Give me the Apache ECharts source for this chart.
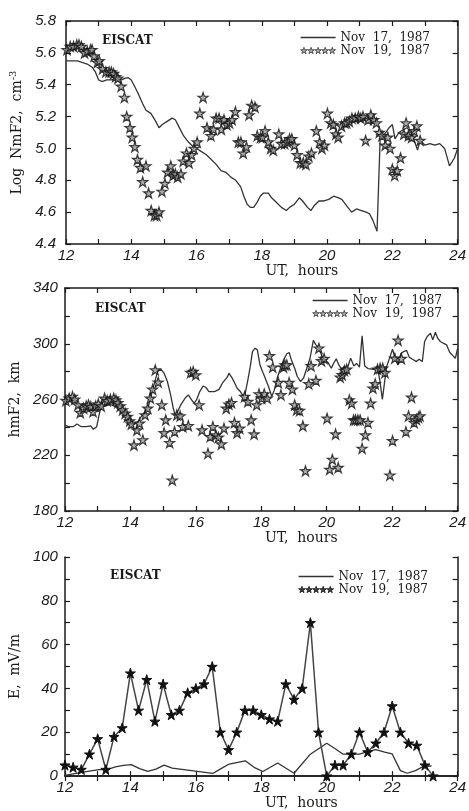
<!DOCTYPE html>
<html>
<head>
<meta charset="utf-8">
<script src="https://cdn.jsdelivr.net/npm/echarts@6/dist/echarts.min.js"></script>
<style>
html, body { margin: 0; padding: 0; background: #fff; }
#chart { width: 469px; height: 811px; }
</style>
</head>
<body>
<div id="chart"></div>
<script>
// panel 1: log NmF2
var nmTime17 = [12.0,12.35,12.65,12.8,12.9,13.0,13.1,13.25,13.4,13.55,13.7,13.8,13.9,14.0,14.1,14.2,14.35,14.45,14.6,14.75,14.85,14.95,15.1,15.25,15.35,15.45,15.6,15.75,15.9,16.0,16.15,16.3,16.45,16.6,16.75,16.9,17.05,17.2,17.35,17.45,17.55,17.65,17.75,17.85,17.95,18.05,18.2,18.3,18.45,18.6,18.75,18.85,19.0,19.15,19.25,19.4,19.5,19.6,19.75,19.9,20.05,20.2,20.35,20.45,20.6,20.75,20.9,21.05,21.2,21.3,21.4,21.53,21.63,21.7,21.8,21.9,22.0,22.08,22.2,22.35,22.45,22.6,22.77,22.85,23.0,23.15,23.3,23.45,23.6,23.75,23.9,24.0];
var nmVal17 = [5.55,5.55,5.53,5.51,5.48,5.43,5.42,5.43,5.43,5.44,5.43,5.44,5.445,5.43,5.39,5.35,5.28,5.24,5.22,5.17,5.13,5.15,5.17,5.19,5.18,5.14,5.08,5.04,5.01,5.0,4.98,4.96,4.93,4.9,4.86,4.85,4.82,4.8,4.76,4.7,4.65,4.63,4.63,4.66,4.7,4.72,4.72,4.69,4.66,4.63,4.61,4.63,4.65,4.69,4.67,4.63,4.61,4.64,4.67,4.67,4.68,4.7,4.69,4.68,4.64,4.6,4.62,4.61,4.6,4.59,4.55,4.48,5.09,5.08,5.1,5.13,5.15,5.06,5.1,5.12,5.13,5.09,4.99,5.05,5.02,5.03,5.02,5.03,5.0,4.89,4.94,5.0];
var nmTime19 = [12.03,12.13,12.23,12.33,12.4,12.47,12.57,12.65,12.75,12.8,12.86,12.96,13.02,13.12,13.22,13.32,13.39,13.46,13.52,13.59,13.69,13.79,13.86,13.96,14.03,14.11,14.19,14.28,14.35,14.45,14.53,14.61,14.71,14.78,14.85,14.94,15.03,15.11,15.21,15.28,15.35,15.42,15.52,15.59,15.69,15.77,15.85,15.92,16.02,16.1,16.2,16.32,16.44,16.52,16.6,16.69,16.76,16.84,16.93,17.01,17.09,17.19,17.28,17.36,17.43,17.53,17.61,17.69,17.79,17.86,17.96,18.02,18.1,18.2,18.27,18.35,18.52,18.6,18.7,18.78,18.85,18.92,19.0,19.08,19.18,19.27,19.35,19.44,19.52,19.67,19.77,19.84,19.92,20.01,20.11,20.19,20.27,20.34,20.44,20.54,20.6,20.68,20.76,20.86,20.96,21.03,21.1,21.18,21.26,21.34,21.43,21.51,21.6,21.68,21.78,21.86,21.93,22.0,22.07,22.15,22.25,22.35,22.42,22.49,22.59,22.67,22.75,22.85];
var nmVal19 = [5.62,5.64,5.64,5.65,5.65,5.64,5.6,5.61,5.62,5.62,5.58,5.54,5.55,5.5,5.48,5.48,5.48,5.47,5.45,5.44,5.39,5.32,5.2,5.13,5.07,5.01,4.93,4.88,4.79,4.89,4.72,4.61,4.58,4.58,4.6,4.73,4.78,4.85,4.89,4.83,4.84,4.82,4.84,4.92,4.97,4.91,4.96,5.0,5.04,5.22,5.32,5.13,5.08,5.12,5.19,5.19,5.12,5.18,5.15,5.16,5.18,5.23,5.04,5.04,4.97,5.01,5.21,5.27,5.26,5.08,5.07,5.07,5.11,5.04,5.0,4.99,5.09,5.03,5.03,5.04,5.06,5.06,5.02,4.96,4.91,4.91,4.9,4.95,4.97,5.11,5.04,5.0,5.02,5.22,5.16,5.15,5.09,5.07,5.14,5.16,5.16,5.17,5.19,5.19,5.2,5.19,5.2,5.05,5.18,5.21,5.18,5.16,5.1,5.08,5.02,5.07,5.0,4.87,4.83,4.86,4.94,5.09,5.16,5.08,5.07,5.11,5.14,5.05];

// panel 2: hmF2, km
var hmTime17 = [12.0,12.1,12.25,12.37,12.5,12.65,12.79,12.87,12.97,13.06,13.12,13.24,13.34,13.42,13.54,13.66,13.79,13.89,13.99,14.08,14.15,14.23,14.33,14.45,14.55,14.68,14.83,14.93,15.03,15.13,15.23,15.31,15.37,15.44,15.54,15.67,15.77,15.87,15.95,16.02,16.12,16.22,16.3,16.4,16.57,16.71,16.81,16.96,17.01,17.11,17.19,17.26,17.36,17.46,17.51,17.59,17.66,17.73,17.81,17.88,17.96,18.05,18.1,18.22,18.32,18.4,18.5,18.6,18.68,18.78,18.85,18.92,19.02,19.1,19.2,19.29,19.39,19.49,19.59,19.67,19.76,19.86,19.94,20.04,20.14,20.21,20.29,20.37,20.45,20.54,20.63,20.73,20.83,20.91,21.0,21.08,21.16,21.26,21.43,21.56,21.62,21.7,21.76,21.83,21.93,22.01,22.1,22.18,22.26,22.35,22.44,22.52,22.62,22.74,22.82,22.92,22.99,23.07,23.17,23.24,23.32,23.39,23.47,23.56,23.66,23.76,23.86,23.93,24.0];
var hmVal17 = [241.7,240.5,240.5,242.4,240.5,240.5,241,238.6,240.5,250.6,254.9,255.3,256.1,256.1,254.9,253.7,251.3,247.2,244.1,242.4,242.9,244.1,247.7,251.3,254.9,266.9,280,281.7,278.9,272.9,263.3,253.7,248.9,251.3,256.1,260.9,263.3,259.7,257.3,259.7,265.7,269.7,268.8,265.7,265.7,267.3,271.7,276,278.9,275.3,271.7,268.1,265.7,262.1,264.5,274.1,283.2,294.4,296.8,295.6,284.8,279.3,276.5,269.3,262.1,266.9,276.5,283.2,288.4,292.8,293.7,288.4,282.4,276.5,272.9,275.3,282.4,289.6,302.4,299.2,296.8,290.8,288.4,286.5,282.4,286,289.2,284.8,281.7,283.6,282.4,289.6,284.1,285.9,283.2,305.7,284.1,282.2,281.7,281.7,274.1,260.1,271.2,283.6,290.4,296.1,288.4,284.8,292.8,294.4,295.2,290.4,288.9,287.2,288.9,287.2,301.6,305.2,307.6,302.8,308.3,304,301.6,300.4,299.2,293.7,291.3,289.6,296.8];
var hmTime19 = [12.03,12.13,12.23,12.3,12.4,12.47,12.57,12.65,12.72,12.79,12.86,12.94,13.02,13.11,13.21,13.29,13.39,13.49,13.56,13.62,13.69,13.76,13.84,13.91,13.98,14.03,14.11,14.2,14.28,14.38,14.45,14.53,14.61,14.68,14.76,14.85,14.96,15.03,15.08,15.2,15.28,15.35,15.42,15.52,15.6,15.77,15.84,15.92,16.0,16.1,16.19,16.37,16.44,16.52,16.61,16.69,16.78,16.86,16.93,17.01,17.09,17.18,17.26,17.34,17.49,17.59,17.69,17.78,17.86,17.93,18.01,18.09,18.18,18.25,18.35,18.52,18.6,18.68,18.72,18.78,18.85,18.95,19.02,19.08,19.17,19.27,19.35,19.45,19.52,19.67,19.76,19.84,19.92,20.01,20.09,20.17,20.27,20.35,20.41,20.47,20.54,20.61,20.69,20.76,20.82,20.88,20.95,21.02,21.08,21.18,21.26,21.34,21.41,21.48,21.55,21.63,21.71,21.78,21.93,22.01,22.08,22.18,22.28,22.42,22.5,22.59,22.67,22.74,22.8,22.85];
var hmVal19 = [259.2,260.9,262.1,260.1,256.1,250.6,253.7,255.3,256.1,254.9,251.3,255.3,256.8,255.3,260.9,259.2,260.1,260.9,259.7,257.7,255.3,252.5,250.1,247.7,244.6,242.4,227.3,238.1,242.9,231,248.9,253.7,260.9,267.3,281.2,272.4,256.1,236.1,245.3,229,202.1,236.9,248.9,248.2,240.5,241.2,279.3,280,277.6,256.1,238.1,221.3,233.3,240.5,234.5,232.8,228,239.3,253.7,256.6,257.7,243.4,236.1,239.3,262.1,258.5,245.3,235.2,256.1,264,260.9,264,260.9,291.3,283.2,272.1,263.3,283.2,284.8,284.8,272.1,267.3,256.1,252.5,252,241,208.8,271.2,284.1,273.6,296.8,287.7,289.4,246.5,209.8,217,235.2,211.2,276,277.7,280.8,281.7,259.7,257.3,245.3,245.3,245.3,245.3,224.9,234.5,243.4,257.3,268.1,271.2,281.7,282.4,282.4,279.3,205.7,230.4,289.6,302.4,289.4,236.9,248.2,261.6,243.4,245.7,247.2,248.2];

// panel 3: E, mV/m
var eTime17 = [12.0,12.6,13.04,13.29,13.54,13.79,14.03,14.28,14.53,14.78,15.03,15.28,16.52,16.77,17.02,17.51,17.78,18.05,18.5,19.0,19.5,20.0,20.27,20.5,21.0,21.25,21.5,21.77,22.0,22.25,22.46,22.71,22.96,23.2];
var eVal17 = [0.3,1.9,3.0,3.0,4.2,4.9,5.2,3.4,2.2,3.2,5.0,3.6,1.2,3.4,5.5,7.0,4.0,2.1,6.0,1.3,10.0,15.0,12.4,10.0,10.0,11.2,12.1,10.9,10.1,2.5,1.3,2.5,4.5,4.6];
var eTime19 = [12.0,12.25,12.5,12.75,13.0,13.25,13.5,13.75,14.0,14.25,14.5,14.75,15.0,15.25,15.5,15.75,16.0,16.25,16.5,16.75,17.0,17.25,17.5,17.75,18.0,18.25,18.5,18.75,19.0,19.25,19.5,19.75,20.0,20.25,20.5,20.75,21.0,21.25,21.5,21.75,22.0,22.25,22.5,22.75,23.0,23.25];
var eVal19 = [5,4,3,10,17,3,18,22,47,30,44,25,42,28,30,38,40,42,50,20,12,20,30,30,28,26,25,42,35,40,70,20,0,5,5,10,20,11,15,20,32,20,15,14,5,0];

var name17 = 'Nov 17, 1987';
var name19 = 'Nov 19, 1987';

function zip(xs, ys) {
    var out = [];
    for (var i = 0; i < xs.length; i++) out.push([xs[i], ys[i]]);
    return out;
}

var star = 'path://M50,0L61.2,34.5L97.6,34.5L68.2,55.9L79.4,90.5L50,69.1L20.6,90.5L31.8,55.9L2.4,34.5L38.8,34.5Z';
var fiveStars = 'path://';
for (var k = 0; k < 5; k++) {
    var o = k * 100;
    fiveStars += 'M' + (o + 50) + ',0L' + (o + 61.2) + ',34.5L' + (o + 97.6) + ',34.5L' + (o + 68.2) + ',55.9L' + (o + 79.4) + ',90.5L' +
        (o + 50) + ',69.1L' + (o + 20.6) + ',90.5L' + (o + 31.8) + ',55.9L' + (o + 2.4) + ',34.5L' + (o + 38.8) + ',34.5Z';
}
// legend path icons keep their aspect, so a 100x4 bar comes out as a thin line
var lineIcon = 'path://M0,0L100,0L100,4L0,4Z';

var serif = 'DejaVu Serif';
var sans = 'Liberation Sans';
var ink = '#1a1a1a';

var grids = [
    {left: 55, top: 21, width: 403, height: 223},
    {left: 55, top: 288, width: 403, height: 223},
    {left: 55, top: 557, width: 403, height: 224}
];

var yCfg = [
    {min: 4.4, max: 5.8, interval: 0.2, name: 'Log  NmF2,  cm{sup|-3}', gap: 40, margin: 10,
        fmt: function (v) { return v.toFixed(1); }},
    {min: 180, max: 340, interval: 20, name: 'hmF2,  km', gap: 36, margin: 7,
        fmt: function (v) { return Math.round(v - 180) % 40 === 0 ? String(Math.round(v)) : ''; }},
    {min: 0, max: 100, interval: 10, name: 'E,  mV/m', gap: 36, margin: 7,
        fmt: function (v) { return Math.round(v) % 20 === 0 ? String(Math.round(v)) : ''; }}
];

var frameLine = {show: true, lineStyle: {color: ink, width: 1.5}};
var tick = {show: true, inside: true, length: 5, lineStyle: {color: ink, width: 1.2}};

var xAxes = [], yAxes = [];
for (var g = 0; g < 3; g++) {
    xAxes.push({
        type: 'value', gridIndex: g, position: 'bottom', min: 12, max: 24, interval: 1,
        axisLine: frameLine, axisTick: tick, splitLine: {show: false},
        axisLabel: {
            margin: 4, color: ink, fontFamily: sans, fontStyle: 'italic', fontSize: 15,
            formatter: function (v) { return v % 2 === 0 ? String(v) : ''; }
        },
        name: 'UT,  hours', nameLocation: 'middle', nameGap: 18,
        nameTextStyle: {fontFamily: serif, fontSize: 14, color: ink, padding: [0, 0, 0, 80]}
    });
    xAxes.push({
        type: 'value', gridIndex: g, position: 'top', min: 12, max: 24, interval: 1,
        axisLine: frameLine, axisTick: tick, splitLine: {show: false}, axisLabel: {show: false}
    });
    var c = yCfg[g];
    yAxes.push({
        type: 'value', gridIndex: g, position: 'left', min: c.min, max: c.max, interval: c.interval,
        axisLine: frameLine, axisTick: tick, splitLine: {show: false},
        axisLabel: {margin: c.margin, color: ink, fontFamily: sans, fontStyle: 'italic', fontSize: 15, formatter: c.fmt},
        name: c.name, nameLocation: 'middle', nameGap: c.gap, nameRotate: 90,
        nameTextStyle: {
            fontFamily: serif, fontSize: 14, color: ink,
            rich: {sup: {fontFamily: serif, fontSize: 10, color: ink, verticalAlign: 'top', padding: [0, 0, 8, 0]}}
        }
    });
    yAxes.push({
        type: 'value', gridIndex: g, position: 'right', min: c.min, max: c.max, interval: c.interval,
        axisLine: frameLine, axisTick: tick, splitLine: {show: false}, axisLabel: {show: false}
    });
}

var hollowStar = {color: '#9a9a9a', borderColor: '#111', borderWidth: 1.2};
var solidStar = {color: '#111', borderColor: '#111', borderWidth: 1};
var lineSt = {color: '#333', width: 1.3};

var series = [
    {name: name17, type: 'line', xAxisIndex: 0, yAxisIndex: 0, showSymbol: false, symbol: 'none',
        lineStyle: lineSt, itemStyle: {color: '#333'}, data: zip(nmTime17, nmVal17), z: 2},
    {name: name19, type: 'scatter', xAxisIndex: 0, yAxisIndex: 0, symbol: star, symbolSize: 10,
        itemStyle: hollowStar, data: zip(nmTime19, nmVal19), z: 3},
    {name: name17, type: 'line', xAxisIndex: 2, yAxisIndex: 2, showSymbol: false, symbol: 'none',
        lineStyle: lineSt, itemStyle: {color: '#333'}, data: zip(hmTime17, hmVal17), z: 2},
    {name: name19, type: 'scatter', xAxisIndex: 2, yAxisIndex: 2, symbol: star, symbolSize: 10,
        itemStyle: hollowStar, data: zip(hmTime19, hmVal19), z: 3},
    {name: name17, type: 'line', xAxisIndex: 4, yAxisIndex: 4, showSymbol: false, symbol: 'none',
        lineStyle: lineSt, itemStyle: {color: '#333'}, data: zip(eTime17, eVal17), z: 2},
    {name: name19, type: 'line', xAxisIndex: 4, yAxisIndex: 4, symbol: star, symbolSize: 10, showSymbol: true,
        lineStyle: {color: '#444', width: 1.5}, itemStyle: solidStar, data: zip(eTime19, eVal19), z: 3}
];

function legendAt(right, top, starStyle) {
    return {
        right: right, top: top, orient: 'vertical', padding: 0, itemGap: 0,
        itemWidth: 35, itemHeight: 7, selectedMode: false, align: 'left',
        textStyle: {fontFamily: serif, fontSize: 12, color: ink, lineHeight: 13},
        formatter: function (n) { return n.replace(/ /g, '  '); },
        data: [
            {name: name17, icon: lineIcon, itemStyle: {color: '#333', borderWidth: 0}},
            {name: name19, icon: fiveStars, itemStyle: starStyle}
        ]
    };
}

function label(left, top) {
    return {text: 'EISCAT', left: left, top: top, padding: 0,
        textStyle: {fontFamily: serif, fontSize: 12, fontWeight: 'bold', color: ink}};
}

var option = {
    backgroundColor: '#fff',
    animation: false,
    title: [label(102, 35), label(95, 303), label(110, 570)],
    legend: [
        legendAt(39, 31, {color: '#9a9a9a', borderColor: '#111', borderWidth: 0.8}),
        legendAt(27, 294, {color: '#9a9a9a', borderColor: '#111', borderWidth: 0.8}),
        legendAt(41, 570, solidStar)
    ],
    grid: grids,
    xAxis: xAxes,
    yAxis: yAxes,
    series: series
};

var chart = echarts.init(document.getElementById('chart'));
chart.setOption(option);
</script>
</body>
</html>
